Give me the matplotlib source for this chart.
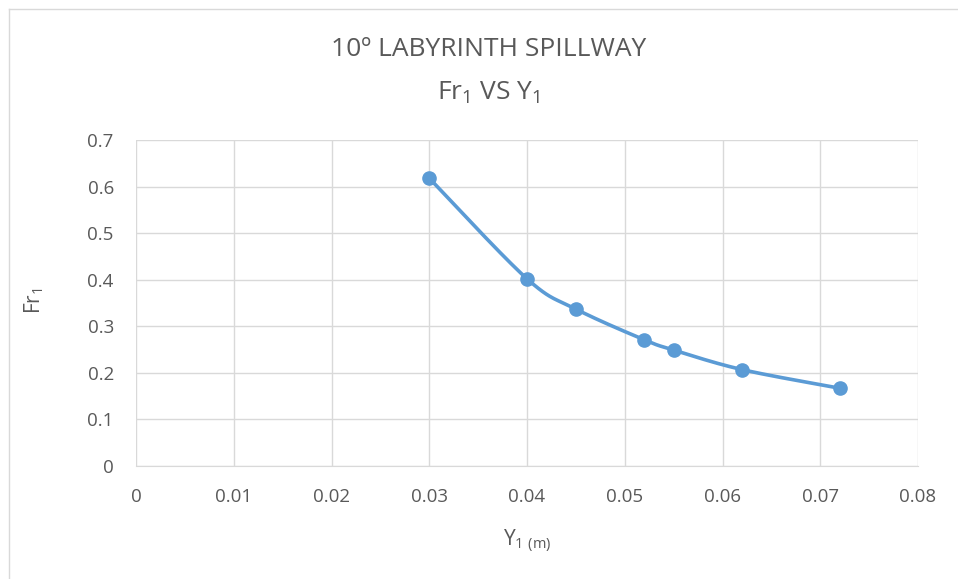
import numpy as np
import matplotlib
matplotlib.use("Agg")
import matplotlib.pyplot as plt
from matplotlib.lines import Line2D

plt.rcParams['font.family'] = ['Open Sans', 'DejaVu Sans']
plt.rcParams['mathtext.fontset'] = 'custom'
plt.rcParams['mathtext.rm'] = 'Open Sans'
plt.rcParams['mathtext.it'] = 'Open Sans'
plt.rcParams['mathtext.bf'] = 'Open Sans'

y1_m = [0.030, 0.040, 0.045, 0.052, 0.055, 0.062, 0.072]
fr1 = [0.618, 0.402, 0.337, 0.271, 0.249, 0.207, 0.167]
x_ticks = [0, 0.01, 0.02, 0.03, 0.04, 0.05, 0.06, 0.07, 0.08]
x_tick_labels = ['0', '0.01', '0.02', '0.03', '0.04', '0.05', '0.06', '0.07', '0.08']
y_ticks = [0, 0.1, 0.2, 0.3, 0.4, 0.5, 0.6, 0.7]
y_tick_labels = ['0', '0.1', '0.2', '0.3', '0.4', '0.5', '0.6', '0.7']

TEXT = '#595959'
GRID = '#d9d9d9'
BLUE = '#5b9bd5'
W, H = 958, 579


def smooth_curve(xs, ys, n=40, t=0.5):
    """Excel-like smoothed line (Catmull-Rom style Bezier) through the points."""
    xs = np.asarray(xs, float); ys = np.asarray(ys, float)
    px = np.concatenate([[xs[0]], xs, [xs[-1]]])
    py = np.concatenate([[ys[0]], ys, [ys[-1]]])
    outx, outy = [], []
    for i in range(1, len(px) - 2):
        p0 = np.array([px[i-1], py[i-1]]); p1 = np.array([px[i], py[i]])
        p2 = np.array([px[i+1], py[i+1]]); p3 = np.array([px[i+2], py[i+2]])
        c1 = p1 + (p2 - p0) * t / 3
        c2 = p2 - (p3 - p1) * t / 3
        s = np.linspace(0, 1, n)[:, None]
        b = ((1-s)**3)*p1 + 3*((1-s)**2)*s*c1 + 3*(1-s)*s**2*c2 + s**3*p2
        outx.extend(b[:, 0]); outy.extend(b[:, 1])
    return np.array(outx), np.array(outy)


fig = plt.figure(figsize=(W/100, H/100), dpi=100)
# chart-area border (left and top visible in the reference)
fig.add_artist(Line2D([8.5/W, 8.5/W], [0, 1 - 9/H], transform=fig.transFigure, color=GRID, lw=1))
fig.add_artist(Line2D([8.5/W, 1], [1 - 9/H, 1 - 9/H], transform=fig.transFigure, color=GRID, lw=1))

ax = fig.add_axes([136/W, (H-466)/H, (918-136)/W, (466-140)/H])

sx, sy = 0.08, 0.7
cx, cy = smooth_curve(np.array(y1_m)/sx, np.array(fr1)/sy)
ax.plot(cx*sx, cy*sy, color=BLUE, linewidth=2.6, solid_capstyle='round', zorder=3)
ax.plot(y1_m, fr1, 'o', color=BLUE, markersize=9.5, zorder=4)

ax.set_xlim(0, 0.08)
ax.set_ylim(0, 0.7)
ax.set_xticks(x_ticks)
ax.set_xticklabels(x_tick_labels)
ax.set_yticks(y_ticks)
ax.set_yticklabels(y_tick_labels)
ax.grid(True, color=GRID, linewidth=1)
ax.set_axisbelow(True)
for s in ['top', 'right', 'left']:
    ax.spines[s].set_visible(False)
ax.spines['bottom'].set_color(GRID)
ax.tick_params(axis='both', length=0, labelsize=13.5, colors=TEXT)
ax.tick_params(axis='x', pad=16)
ax.tick_params(axis='y', pad=16)

fig.text(527/W, 1 - 541/H, r'Y$_{1\ (\mathrm{m})}$', ha='center', va='center', fontsize=15, color=TEXT)
fig.text(34/W, 1 - 301/H, r'Fr$_{1}$', ha='center', va='center', rotation=90, fontsize=15, color=TEXT)

fig.text(489/W, 1 - 50/H, '10º LABYRINTH SPILLWAY', ha='center', va='center', fontsize=19, color=TEXT)
fig.text(489/W, 1 - 93/H, r'Fr$_{1}$ VS Y$_{1}$', ha='center', va='center', fontsize=19, color=TEXT)

fig.savefig('out.png', dpi=100, facecolor='white')
